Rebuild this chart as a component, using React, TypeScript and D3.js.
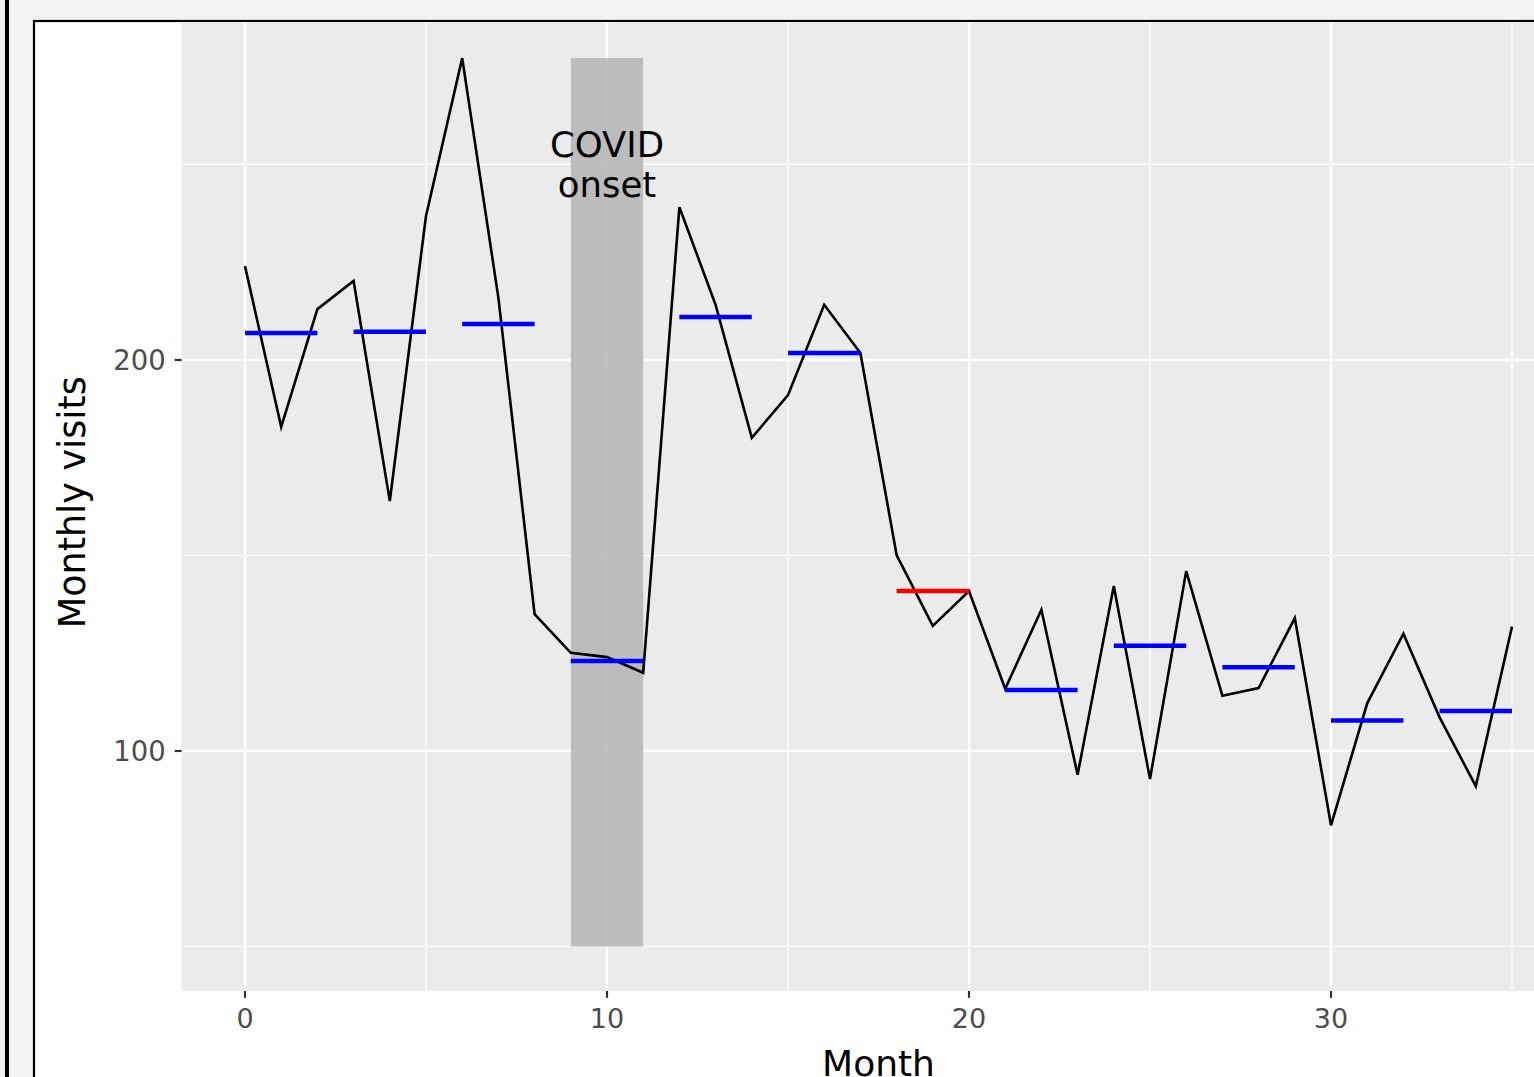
import React from "react";
import * as d3 from "d3";

const months: number[] = d3.range(36);
const visits: number[] = [
  224.0, 182.9, 213.0, 220.2, 163.9, 236.8, 277.2, 215.9, 135.0, 125.1, 124.0, 120.0,
  239.1, 214.1, 180.1, 191.0, 214.1, 201.8, 150.1, 132.0, 140.9, 115.9, 136.1, 93.9,
  142.2, 92.8, 146.0, 114.1, 116.1, 134.0, 81.0, 112.2, 130.0, 108.6, 91.0, 131.8,
];
const groupStart: number[] = [0, 3, 6, 9, 12, 15, 18, 21, 24, 27, 30, 33];
const groupEnd: number[] = [2, 5, 8, 11, 14, 17, 20, 23, 26, 29, 32, 35];
const groupMean: number[] = [206.9, 207.2, 209.2, 123.0, 211.0, 201.8, 140.9, 115.6, 126.9, 121.4, 107.8, 110.2];
const groupFlag: boolean[] = [false, false, false, false, false, false, true, false, false, false, false, false];
const covidStart = 9;
const covidEnd = 11;
const covidLow = 50;
const xTicks: number[] = [0, 10, 20, 30];
const xMinor: number[] = [5, 15, 25, 35];
const yTicks: number[] = [100, 200];
const yMinor: number[] = [50, 150, 250];
const annotationLines: string[] = ["COVID", "onset"];
const annotationX = 10;
const annotationY = 250;

const W = 1534;
const H = 1077;
const PL = 181.65;
const PR = 1575.35;
const PT = 13.7;
const PB = 990.9;
const FONT = "'DejaVu Sans', sans-serif";

export default function App() {
  const xExt = d3.extent(months) as [number, number];
  const xPad = (xExt[1] - xExt[0]) * 0.05;
  const x = d3.scaleLinear().domain([xExt[0] - xPad, xExt[1] + xPad]).range([PL, PR]);
  const yMax = d3.max(visits) as number;
  const yPad = (yMax - covidLow) * 0.05;
  const y = d3.scaleLinear().domain([covidLow - yPad, yMax + yPad]).range([PB, PT]);

  const line = d3
    .line<number>()
    .x((_, i) => x(months[i]))
    .y((d) => y(d));

  return (
    <div style={{ position: "absolute", left: 0, top: 0 }}>
      <svg width={W} height={H} style={{ display: "block" }}>
        <defs>
          <clipPath id="inner">
            <rect x={35} y={22} width={W - 35} height={H - 22} />
          </clipPath>
        </defs>
        <rect x={0} y={0} width={W} height={H} fill="#f2f2f2" />
        <rect x={5} y={0} width={4} height={H} fill="#000" />
        <rect x={34} y={21} width={W} height={H} fill="#fff" stroke="#000" strokeWidth={2.2} />
        <g clipPath="url(#inner)">
          <rect x={PL} y={PT} width={PR - PL} height={PB - PT} fill="#ebebeb" />
          {yMinor.map((v) => (
            <line key={"ym" + v} x1={PL} x2={PR} y1={y(v)} y2={y(v)} stroke="#fff" strokeWidth={1.2} />
          ))}
          {xMinor.map((v) => (
            <line key={"xm" + v} x1={x(v)} x2={x(v)} y1={PT} y2={PB} stroke="#fff" strokeWidth={1.2} />
          ))}
          {yTicks.map((v) => (
            <line key={"yM" + v} x1={PL} x2={PR} y1={y(v)} y2={y(v)} stroke="#fff" strokeWidth={2.4} />
          ))}
          {xTicks.map((v) => (
            <line key={"xM" + v} x1={x(v)} x2={x(v)} y1={PT} y2={PB} stroke="#fff" strokeWidth={2.4} />
          ))}
          <rect
            x={x(covidStart)}
            y={y(yMax)}
            width={x(covidEnd) - x(covidStart)}
            height={y(covidLow) - y(yMax)}
            fill="#b4b4b4"
            fillOpacity={0.85}
          />
          <path d={line(visits) || ""} fill="none" stroke="#000" strokeWidth={2.6} strokeLinejoin="miter" />
          {groupMean.map((m, i) => (
            <line
              key={"g" + i}
              x1={x(groupStart[i])}
              x2={x(groupEnd[i])}
              y1={y(m)}
              y2={y(m)}
              stroke={groupFlag[i] ? "#ff0000" : "#0000ff"}
              strokeWidth={4.5}
            />
          ))}
          <text x={x(annotationX)} y={y(annotationY) - 7.5} textAnchor="middle" fontFamily={FONT} fontSize={35.5} fill="#000">
            {annotationLines[0]}
          </text>
          <text x={x(annotationX)} y={y(annotationY) + 32.5} textAnchor="middle" fontFamily={FONT} fontSize={35.5} fill="#000">
            {annotationLines[1]}
          </text>
          {xTicks.map((v) => (
            <g key={"xt" + v}>
              <line x1={x(v)} x2={x(v)} y1={PB} y2={PB + 7} stroke="#333" strokeWidth={2.2} />
              <text x={x(v)} y={1028} textAnchor="middle" fontFamily={FONT} fontSize={27} fill="#4d4d4d">
                {v}
              </text>
            </g>
          ))}
          {yTicks.map((v) => (
            <g key={"yt" + v}>
              <line x1={PL - 7} x2={PL} y1={y(v)} y2={y(v)} stroke="#333" strokeWidth={2.2} />
              <text x={PL - 16} y={y(v)} dy="0.36em" textAnchor="end" fontFamily={FONT} fontSize={27.5} fill="#4d4d4d">
                {v}
              </text>
            </g>
          ))}
          <text x={(PL + PR) / 2} y={1076} textAnchor="middle" fontFamily={FONT} fontSize={36} fill="#000">
            Month
          </text>
          <text
            transform={`translate(${85},${(PT + PB) / 2}) rotate(-90)`}
            textAnchor="middle"
            fontFamily={FONT}
            fontSize={36.5}
            fill="#000"
          >
            Monthly visits
          </text>
        </g>
      </svg>
    </div>
  );
}
